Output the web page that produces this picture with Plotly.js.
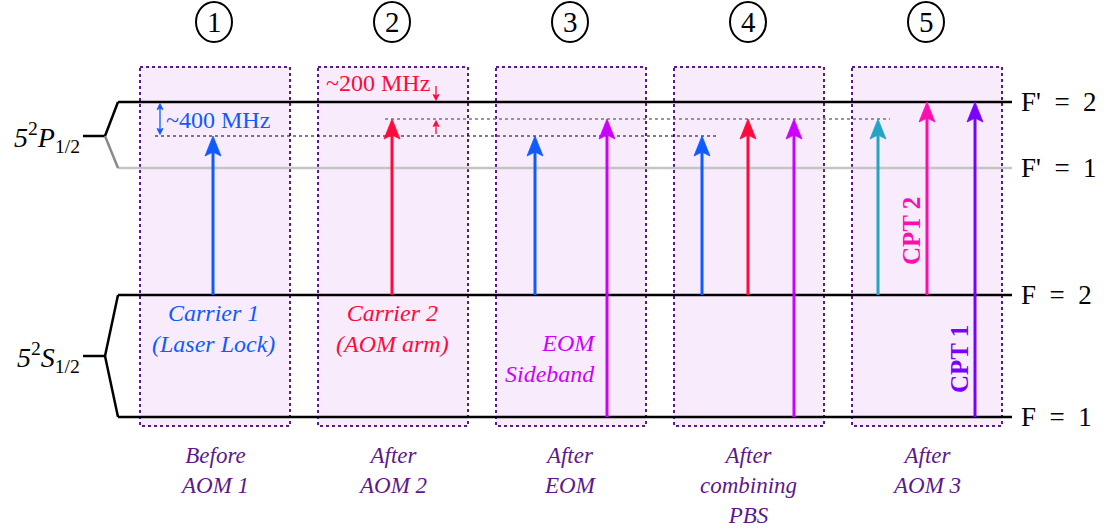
<!DOCTYPE html>
<html><head><meta charset="utf-8">
<script src="https://cdn.plot.ly/plotly-3.0.1.min.js"></script>
<style>body{margin:0;background:#fff}#plot{width:1107px;height:528px}</style>
</head><body><div id="plot"></div>
<script>
// ---- data ----
const panelNumbers = ['1', '2', '3', '4', '5'];
const panelCaptions = ['Before<br>AOM 1', 'After<br>AOM 2', 'After<br>EOM', 'After<br>combining<br>PBS', 'After<br>AOM 3'];
const levelNames = ["F'&nbsp;&nbsp;=&nbsp;&nbsp;2", "F'&nbsp;&nbsp;=&nbsp;&nbsp;1", "F&nbsp;&nbsp;=&nbsp;&nbsp;2", "F&nbsp;&nbsp;=&nbsp;&nbsp;1"];
const levelEnergy = [102, 168, 295, 417];          // vertical level positions (diagram units)
const detuning400 = 136;                            // carrier 1 target (~400 MHz below F'=2)
const detuning200 = 119;                            // AOM-shifted target (~200 MHz below F'=2)
const beamNames = ['Carrier 1', 'Carrier 2', 'Carrier 1', 'EOM sideband', 'Carrier 1', 'Carrier 2', 'EOM sideband', 'AOM 3 shifted', 'CPT 2', 'CPT 1'];
const beamPanel = [0, 1, 2, 2, 3, 3, 3, 4, 4, 4];
const beamX = [213, 392, 535, 607, 702, 748, 794, 878, 927, 975];
const beamFrom = [295, 295, 295, 417, 295, 295, 417, 295, 295, 417];
const beamTo = [136, 119, 136, 119, 136, 119, 119, 119, 102, 102];
const beamColors = ['#0f5bff', '#ff0a3a', '#0f5bff', '#cc00ff', '#0f5bff', '#ff0a3a', '#cc00ff', '#22a5c5', '#ff0db0', '#7a00ff'];

// ---- layout helpers ----
const boxLeft = [140, 318, 496, 674, 852];
const boxW = 150;
const centers = boxLeft.map(l => l + boxW / 2 - 1);
const serif = 'Liberation Serif, DejaVu Serif, serif';
const capColor = '#5b1a8c';

const shapes = [];
const annotations = [];

function arrowShapes(x, yFrom, yTo, color, width, len, half, notch) {
  const dir = yTo < yFrom ? 1 : -1;   // +1: pointing up (screen y decreasing)
  shapes.push({type: 'line', x0: x, x1: x, y0: yFrom, y1: yTo + dir * (len - notch), line: {color: color, width: width}});
  shapes.push({type: 'path',
    path: `M ${x} ${yTo} L ${x + half} ${yTo + dir * len} L ${x} ${yTo + dir * (len - notch)} L ${x - half} ${yTo + dir * len} Z`,
    fillcolor: color, line: {color: color, width: 0.8}});
}

// panel boxes
boxLeft.forEach(l => {
  shapes.push({type: 'rect', xref: 'x', yref: 'y', x0: l, x1: l + boxW, y0: 67, y1: 426,
    fillcolor: '#f8ecfc', line: {color: '#5b1a8c', width: 2, dash: 'dot'}, layer: 'below'});
});

// levels
const lvlX0 = 118, lvlX1 = 1012;
levelEnergy.forEach((y, i) => {
  shapes.push({type: 'line', x0: lvlX0, x1: lvlX1, y0: y, y1: y,
    line: {color: i === 1 ? '#c4c4c4' : '#000', width: 2.5}});
  annotations.push({x: 1019, y: y, text: levelNames[i], showarrow: false, xanchor: 'left', yanchor: 'middle',
    font: {family: serif, size: 27, color: '#000'}});
});
// brackets
const pJ = (levelEnergy[0] + levelEnergy[1]) / 2 + 1, sJ = (levelEnergy[2] + levelEnergy[3]) / 2;
shapes.push({type: 'line', x0: 83, x1: 105, y0: pJ, y1: pJ, line: {color: '#000', width: 2.5}});
shapes.push({type: 'line', x0: 105, x1: lvlX0, y0: pJ, y1: levelEnergy[0], line: {color: '#000', width: 2.5}});
shapes.push({type: 'line', x0: 105, x1: lvlX0, y0: pJ, y1: levelEnergy[1], line: {color: '#8a8a8a', width: 2.5}});
shapes.push({type: 'line', x0: 83, x1: 105, y0: sJ, y1: sJ, line: {color: '#000', width: 2.5}});
shapes.push({type: 'line', x0: 105, x1: lvlX0, y0: sJ, y1: levelEnergy[2], line: {color: '#000', width: 2.5}});
shapes.push({type: 'line', x0: 105, x1: lvlX0, y0: sJ, y1: levelEnergy[3], line: {color: '#000', width: 2.5}});
annotations.push({x: 82, y: pJ + 1, text: '<i>5</i><sup>2</sup><i>P</i><sub>1/2</sub>', showarrow: false, xanchor: 'right', yanchor: 'middle',
  font: {family: serif, size: 28, color: '#000'}});
annotations.push({x: 82, y: sJ + 1, text: '<i>5</i><sup>2</sup><i>S</i><sub>1/2</sub>', showarrow: false, xanchor: 'right', yanchor: 'middle',
  font: {family: serif, size: 28, color: '#000'}});

// detuning reference lines
shapes.push({type: 'line', x0: 155, x1: 716, y0: detuning400, y1: detuning400, line: {color: '#000', width: 1.2, dash: 'dot'}});
shapes.push({type: 'line', x0: 385, x1: 890, y0: detuning200, y1: detuning200, line: {color: '#777', width: 1.5, dash: 'dot'}});

// beams: shaft + stealth head
beamX.forEach((x, i) => arrowShapes(x, beamFrom[i], beamTo[i], beamColors[i], 3, 20, 8, 4));

// MHz markers
const mid400 = (levelEnergy[0] + detuning400) / 2;
arrowShapes(160, mid400, levelEnergy[0] + 1.5, '#0f5bff', 1.3, 6, 3, 1);
arrowShapes(160, mid400, detuning400 - 1.5, '#0f5bff', 1.3, 6, 3, 1);
annotations.push({x: 164, y: 120, text: '~400 MHz', showarrow: false, xanchor: 'left', yanchor: 'middle',
  font: {family: serif, size: 24, color: '#0f5bff'}});
arrowShapes(436, 86, levelEnergy[0] - 1.5, '#ff0a3a', 1.3, 6, 3, 1);
arrowShapes(436, 134, detuning200 + 1.5, '#ff0a3a', 1.3, 6, 3, 1);
annotations.push({x: 324, y: 83, text: '~200 MHz', showarrow: false, xanchor: 'left', yanchor: 'middle',
  font: {family: serif, size: 24, color: '#ff0a3a'}});

// beam labels
annotations.push({x: beamX[0], y: 328, text: '<i>Carrier 1</i><br><i>(Laser Lock)</i>', showarrow: false, yanchor: 'middle',
  font: {family: serif, size: 24, color: '#0f5bff'}});
annotations.push({x: beamX[1], y: 328, text: '<i>Carrier 2</i><br><i>(AOM arm)</i>', showarrow: false, yanchor: 'middle',
  font: {family: serif, size: 24, color: '#ff0a3a'}});
annotations.push({x: 598, y: 358, text: '<i>EOM</i><br><i>Sideband</i>', showarrow: false, xanchor: 'right', yanchor: 'middle', align: 'right',
  font: {family: serif, size: 24, color: '#cc00ff'}});
annotations.push({x: 911, y: 231, text: '<b>CPT 2</b>', showarrow: false, textangle: -90,
  font: {family: serif, size: 25, color: '#ff0db0'}});
annotations.push({x: 959, y: 359, text: '<b>CPT 1</b>', showarrow: false, textangle: -90,
  font: {family: serif, size: 25, color: '#7a00ff'}});

// panel numbers and captions
centers.forEach((c, i) => {
  shapes.push({type: 'circle', x0: c - 18, x1: c + 18, y0: 2, y1: 42, line: {color: '#000', width: 2}});
  annotations.push({x: c, y: 22, text: panelNumbers[i], showarrow: false, yanchor: 'middle',
    font: {family: serif, size: 29, color: '#000'}});
  annotations.push({x: c, y: 441, text: '<i>' + panelCaptions[i].split('<br>').join('</i><br><i>') + '</i>', showarrow: false, yanchor: 'top',
    font: {family: serif, size: 23, color: capColor}});
});

const layout = {
  width: 1107, height: 528, margin: {l: 0, r: 0, t: 0, b: 0},
  paper_bgcolor: '#fff', plot_bgcolor: '#fff', showlegend: false,
  xaxis: {range: [0, 1107], visible: false, fixedrange: true},
  yaxis: {range: [528, 0], visible: false, fixedrange: true},
  shapes: shapes, annotations: annotations
};
Plotly.newPlot('plot', [{x: [], y: [], type: 'scatter', mode: 'markers'}], layout, {staticPlot: true});
</script></body></html>
